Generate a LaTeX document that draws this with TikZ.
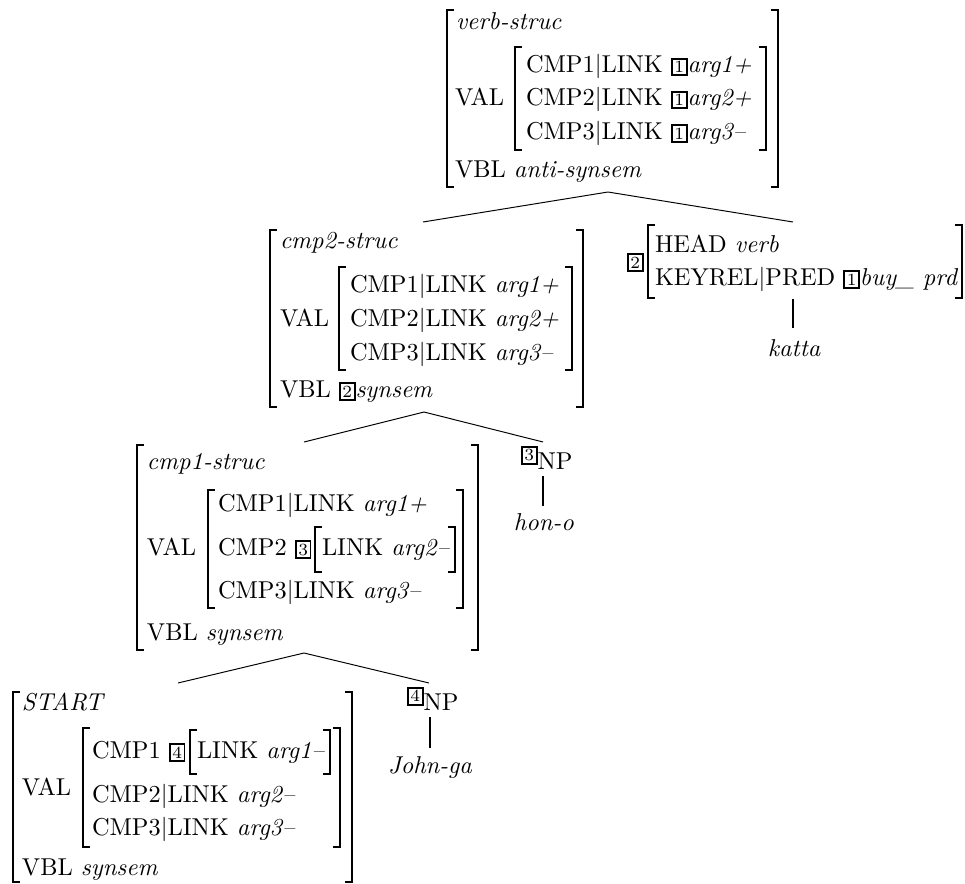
\documentclass[tikz,border=0pt]{standalone}
\usetikzlibrary{calc}
\newcommand{\tagn}[1]{{\setlength{\fboxsep}{0.4pt}\setlength{\fboxrule}{0.8pt}\fbox{\makebox[4.4pt]{\rule[-0.3pt]{0pt}{5.1pt}\scriptsize #1}}}}
\tikzset{
  row/.style={inner sep=0pt, outer sep=0pt, anchor=base west},
  lbl/.style={inner sep=0pt, outer sep=0pt, anchor=base west},
  brk/.style={line width=0.5pt},
  stk/.style={line width=0.85pt},
  branch/.style={line width=0.4pt},
  stem/.style={line width=1pt}
}
% brackets: x, top, bottom (in picture units)
\newcommand{\lbrk}[3]{\draw[brk] ({#1+7},#2) -- (#1,#2) -- (#1,#3) -- ({#1+7},#3); \draw[stk] (#1,#2) -- (#1,#3);}
\newcommand{\rbrk}[3]{\draw[brk] ({#1-7},#2) -- (#1,#2) -- (#1,#3) -- ({#1-7},#3); \draw[stk] (#1,#2) -- (#1,#3);}
\begin{document}
\begin{tikzpicture}[x=0.41pt, y=-0.41pt]
\useasboundingbox (0,0) rectangle (965,884);

% ===== top AVM =====
\lbrk{447}{10}{187}\rbrk{778}{10}{187}
\lbrk{515}{47}{150}\rbrk{766}{47}{150}
\node[row] (t0) at (456,29) {\textit{verb-struc}};
\node[row] (t1) at (455,105) {VAL};
\node[row] (t2) at (526,72.5) {CMP1$|$LINK \tagn{1}\textit{arg1+}};
\node[row] (t3) at (526,105.5) {CMP2$|$LINK \tagn{1}\textit{arg2+}};
\node[row] (t4) at (526,139) {CMP3$|$LINK \tagn{1}\textit{arg3--}};
\node[row] (t5) at (455,177) {VBL \textit{anti-synsem}};

% ===== cmp2 AVM =====
\lbrk{270}{230}{407}\rbrk{583}{230}{407}
\lbrk{339}{267}{370}\rbrk{572}{267}{370}
\node[row] (c0) at (280,248.5) {\textit{cmp2-struc}};
\node[row] (c1) at (280,326) {VAL};
\node[row] (c2) at (350,292) {CMP1$|$LINK \textit{arg1+}};
\node[row] (c3) at (350,326) {CMP2$|$LINK \textit{arg2+}};
\node[row] (c4) at (350,360) {CMP3$|$LINK \textit{arg3--}};
\node[row] (c5) at (280,397) {VBL \tagn{2}\textit{synsem}};

% ===== head AVM =====
\node[row] (h0) at (627,268) {\tagn{2}};
\lbrk{648}{225}{298}\rbrk{962}{225}{298}
\node[row] (h1) at (655,252) {HEAD \textit{verb}};
\node[row] (h2) at (655,285) {KEYREL$|$PRED \tagn{1}\textit{buy\_ prd}};
\node[lbl] (katta) at (768,356) {\textit{katta}};

% ===== cmp1 AVM =====
\lbrk{137}{445}{650}\rbrk{478}{445}{650}
\lbrk{208}{490}{608}\rbrk{463}{490}{608}
\lbrk{315}{527}{572}\rbrk{455}{527}{572}
\node[row] (d0) at (147,469) {\textit{cmp1-struc}};
\node[row] (d1) at (147,555) {VAL};
\node[row] (d2) at (218,511) {CMP1$|$LINK \textit{arg1+}};
\node[row] (d3) at (218,555) {CMP2 \tagn{3}};
\node[row] (d3b) at (322,555) {LINK \textit{arg2--}};
\node[row] (d4) at (218,598) {CMP3$|$LINK \textit{arg3--}};
\node[row] (d5) at (147,640) {VBL \textit{synsem}};

\node[lbl] (np3) at (521,469) {\raisebox{3.3pt}{\tagn{3}}NP};
\node[lbl] (hono) at (514,530) {\textit{hon-o}};

% ===== START AVM =====
\lbrk{13}{692}{882}\rbrk{352}{692}{882}
\lbrk{83}{728}{847}\rbrk{340}{728}{847}
\lbrk{190}{730}{774}\rbrk{330}{730}{774}
\node[row] (s0) at (22,710) {\textit{START}};
\node[row] (s1) at (22,795) {VAL};
\node[row] (s2) at (92,758) {CMP1 \tagn{4}};
\node[row] (s2b) at (197,758) {LINK \textit{arg1--}};
\node[row] (s3) at (92,802) {CMP2$|$LINK \textit{arg2--}};
\node[row] (s4) at (92,835) {CMP3$|$LINK \textit{arg3--}};
\node[row] (s5) at (22,875) {VBL \textit{synsem}};

\node[lbl] (np4) at (407,710) {\raisebox{3.3pt}{\tagn{4}}NP};
\node[lbl] (johnga) at (388,773) {\textit{John-ga}};

% ===== tree branches =====
\coordinate (apexA) at (608,192);
\coordinate (endA1) at (423,222);
\coordinate (endA2) at (793,222);
\coordinate (apexB) at (424,412);
\coordinate (endB1) at (304,442);
\coordinate (endB2) at (543,442);
\coordinate (apexC) at (304,653);
\coordinate (endC1) at (178,683);
\coordinate (endC2) at (429,683);

\draw[branch] (endA1) -- (apexA) -- (endA2);
\draw[branch] (endB1) -- (apexB) -- (endB2);
\draw[branch] (endC1) -- (apexC) -- (endC2);

\draw[stem] (793,299) -- ($(katta.base west)+(25,-28)$);
\draw[stem] ($(np3.base west)+(22,7)$) -- ($(hono.base west)+(29,-24)$);
\draw[stem] ($(np4.base west)+(23,7)$) -- ($(johnga.base west)+(42,-25)$);
\end{tikzpicture}
\end{document}
